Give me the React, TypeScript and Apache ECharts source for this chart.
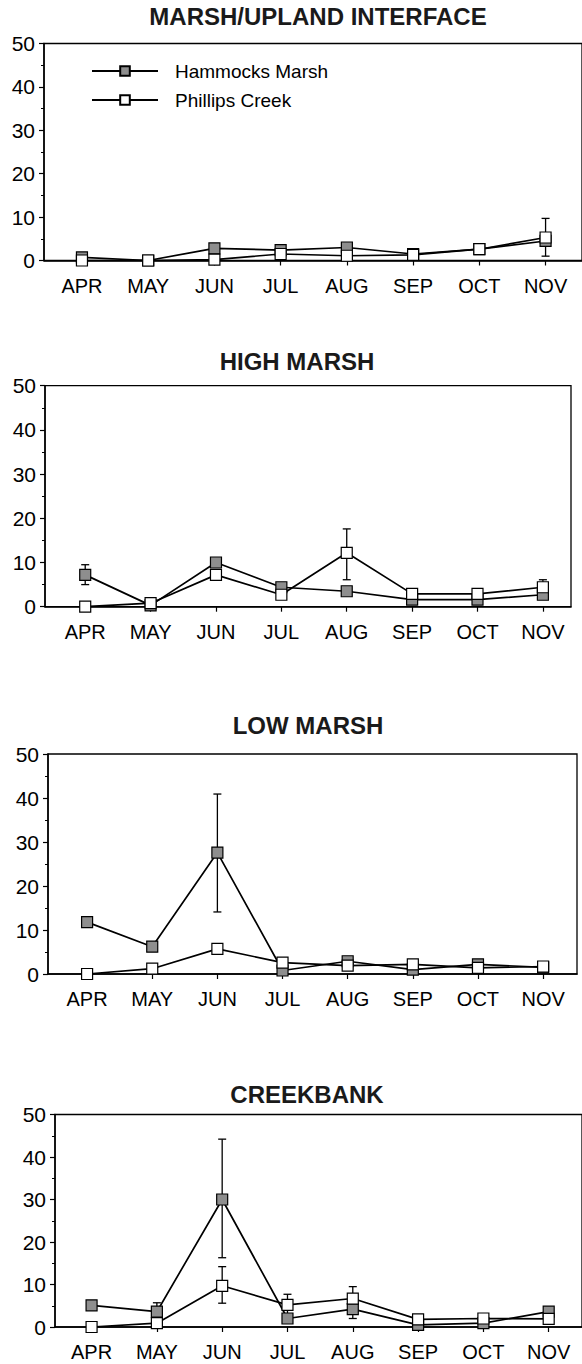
import React, { useEffect, useRef } from "react";
import * as echarts from "echarts";

const MONTHS = ["APR", "MAY", "JUN", "JUL", "AUG", "SEP", "OCT", "NOV"];
const TITLES = ["MARSH/UPLAND INTERFACE", "HIGH MARSH", "LOW MARSH", "CREEKBANK"];
const SERIES_NAMES = ["Hammocks Marsh", "Phillips Creek"];
const Y_TICKS = [0, 10, 20, 30, 40, 50];

// Hammocks Marsh (grey squares)
const HM_1 = [0.7, 0, 2.8, 2.4, 3.0, 1.5, 2.6, 4.5];
const HM_2 = [7.2, 0.3, 10.0, 4.4, 3.5, 1.6, 1.6, 2.7];
const HM_3 = [11.8, 6.2, 27.6, 0.8, 2.9, 1.0, 2.2, 1.5];
const HM_4 = [5.1, 3.6, 30.0, 2.0, 4.2, 0.5, 0.9, 3.6];

// Phillips Creek (open squares)
const PC_1 = [0, 0, 0.2, 1.5, 1.1, 1.3, 2.6, 5.3];
const PC_2 = [0, 0.8, 7.2, 2.7, 12.2, 2.9, 2.9, 4.4];
const PC_3 = [0, 1.2, 5.7, 2.6, 1.9, 2.2, 1.4, 1.7];
const PC_4 = [0, 0.9, 9.7, 5.2, 6.7, 1.8, 2.0, 1.9];

// error bars: [month index, low, high]
const HM_ERR_1 = [[3, 1.3, 3.5]];
const PC_ERR_1 = [[7, 1.0, 9.7]];
const HM_ERR_2 = [[0, 5.0, 9.5]];
const PC_ERR_2 = [[4, 6.1, 17.6], [7, 2.7, 6.1]];
const HM_ERR_3 = [[2, 14.1, 40.9]];
const PC_ERR_3: number[][] = [];
const HM_ERR_4 = [[1, 1.5, 5.7], [2, 16.3, 44.2], [4, 2.0, 6.4]];
const PC_ERR_4 = [[2, 5.6, 14.2], [3, 2.7, 7.7], [4, 4.0, 9.5]];

const HM = [HM_1, HM_2, HM_3, HM_4];
const PC = [PC_1, PC_2, PC_3, PC_4];
const HM_ERR = [HM_ERR_1, HM_ERR_2, HM_ERR_3, HM_ERR_4];
const PC_ERR = [PC_ERR_1, PC_ERR_2, PC_ERR_3, PC_ERR_4];

// layout per panel (pixels)
const LAYOUT = [
  { left: 44, width: 546, top: 43.5, height: 217, xMin: -0.573, xMax: 7.55, titleTop: 4, titleX: 318 },
  { left: 45, width: 526, top: 385.7, height: 221, xMin: -0.615, xMax: 7.43, titleTop: 349, titleX: 297 },
  { left: 48, width: 529, top: 754, height: 220, xMin: -0.6, xMax: 7.52, titleTop: 713, titleX: 308 },
  { left: 55, width: 535, top: 1114.5, height: 212.5, xMin: -0.56, xMax: 7.51, titleTop: 1082, titleX: 307 },
];

const FONT = "'Liberation Sans', Arial, Helvetica, sans-serif";
const GREY = "#8e8e8e";

function errRender(params: any, api: any) {
  const x = api.value(0);
  const lo = api.coord([x, api.value(1)]);
  const hi = api.coord([x, api.value(2)]);
  const cw = 4;
  const style = { stroke: "#000", lineWidth: 1.3 };
  return {
    type: "group",
    children: [
      { type: "line", shape: { x1: lo[0], y1: lo[1], x2: hi[0], y2: hi[1] }, style },
      { type: "line", shape: { x1: hi[0] - cw, y1: hi[1], x2: hi[0] + cw, y2: hi[1] }, style },
      { type: "line", shape: { x1: lo[0] - cw, y1: lo[1], x2: lo[0] + cw, y2: lo[1] }, style },
    ],
  };
}

export default function App() {
  const ref = useRef<HTMLDivElement>(null);
  useEffect(() => {
    if (!ref.current) return;
    const chart = echarts.init(ref.current, null, { renderer: "svg" });
    const grids: any[] = [];
    const xAxes: any[] = [];
    const yAxes: any[] = [];
    const titles: any[] = [];
    const series: any[] = [];
    LAYOUT.forEach((L, i) => {
      grids.push({
        left: L.left,
        top: L.top,
        width: L.width,
        height: L.height,
        show: true,
        borderColor: "#000",
        borderWidth: 1.3,
        containLabel: false,
      });
      xAxes.push({
        gridIndex: i,
        type: "value",
        min: L.xMin,
        max: L.xMax,
        axisLine: { show: true, onZero: false, lineStyle: { color: "#000", width: 1.5 } },
        axisTick: { show: true, customValues: MONTHS.map((_, k) => k), length: 5, lineStyle: { color: "#000", width: 1.2 } },
        axisLabel: {
          customValues: MONTHS.map((_, k) => k),
          formatter: (v: number) => MONTHS[Math.round(v)] ?? "",
          color: "#000",
          fontSize: 20,
          fontFamily: FONT,
          margin: 15,
        },
        splitLine: { show: false },
      });
      yAxes.push({
        gridIndex: i,
        type: "value",
        min: Y_TICKS[0],
        max: Y_TICKS[Y_TICKS.length - 1],
        interval: 10,
        axisLine: { show: true, onZero: false, lineStyle: { color: "#000", width: 1.5 } },
        axisTick: { show: true, length: 5, lineStyle: { color: "#000", width: 1.2 } },
        minorTick: { show: true, splitNumber: 2, length: 3, lineStyle: { color: "#000", width: 1 } },
        axisLabel: { color: "#000", fontSize: 21, fontFamily: FONT, margin: 9 },
        splitLine: { show: false },
      });
      titles.push({
        text: TITLES[i],
        left: L.titleX,
        top: L.titleTop,
        textAlign: "center",
        padding: 0,
        textStyle: { fontSize: 24, fontWeight: "bold", color: "#1a1a1a", fontFamily: FONT },
      });
      series.push({
        type: "custom",
        name: "err-hm-" + i,
        xAxisIndex: i,
        yAxisIndex: i,
        renderItem: errRender,
        data: HM_ERR[i],
        encode: { x: 0, y: [1, 2] },
        z: 1,
        silent: true,
      });
      series.push({
        type: "custom",
        name: "err-pc-" + i,
        xAxisIndex: i,
        yAxisIndex: i,
        renderItem: errRender,
        data: PC_ERR[i],
        encode: { x: 0, y: [1, 2] },
        z: 1,
        silent: true,
      });
      series.push({
        type: "line",
        name: SERIES_NAMES[0],
        xAxisIndex: i,
        yAxisIndex: i,
        data: HM[i].map((v, k) => [k, v]),
        symbol: "rect",
        symbolSize: 11,
        showAllSymbol: true,
        lineStyle: { color: "#000", width: 1.7 },
        itemStyle: { color: GREY, borderColor: "#000", borderWidth: 1.2 },
        z: 3,
      });
      series.push({
        type: "line",
        name: SERIES_NAMES[1],
        xAxisIndex: i,
        yAxisIndex: i,
        data: PC[i].map((v, k) => [k, v]),
        symbol: "rect",
        symbolSize: 11,
        showAllSymbol: true,
        lineStyle: { color: "#000", width: 1.7 },
        itemStyle: { color: "#fff", borderColor: "#000", borderWidth: 1.2 },
        z: 4,
      });
    });
    chart.setOption({
      animation: false,
      backgroundColor: "#fff",
      title: titles,
      grid: grids,
      xAxis: xAxes,
      yAxis: yAxes,
      legend: {
        data: SERIES_NAMES,
        orient: "vertical",
        left: 91,
        top: 61,
        padding: 0,
        itemWidth: 66,
        itemHeight: 12,
        itemGap: 9,
        textStyle: { fontSize: 19, fontFamily: FONT, color: "#000", lineHeight: 20, padding: [0, 0, 0, 12] },
        selectedMode: false,
      },
      series,
    });
    return () => chart.dispose();
  }, []);
  return (
    <div
      ref={ref}
      style={{ position: "absolute", left: 0, top: 0, width: 582, height: 1364, background: "#fff" }}
    />
  );
}
